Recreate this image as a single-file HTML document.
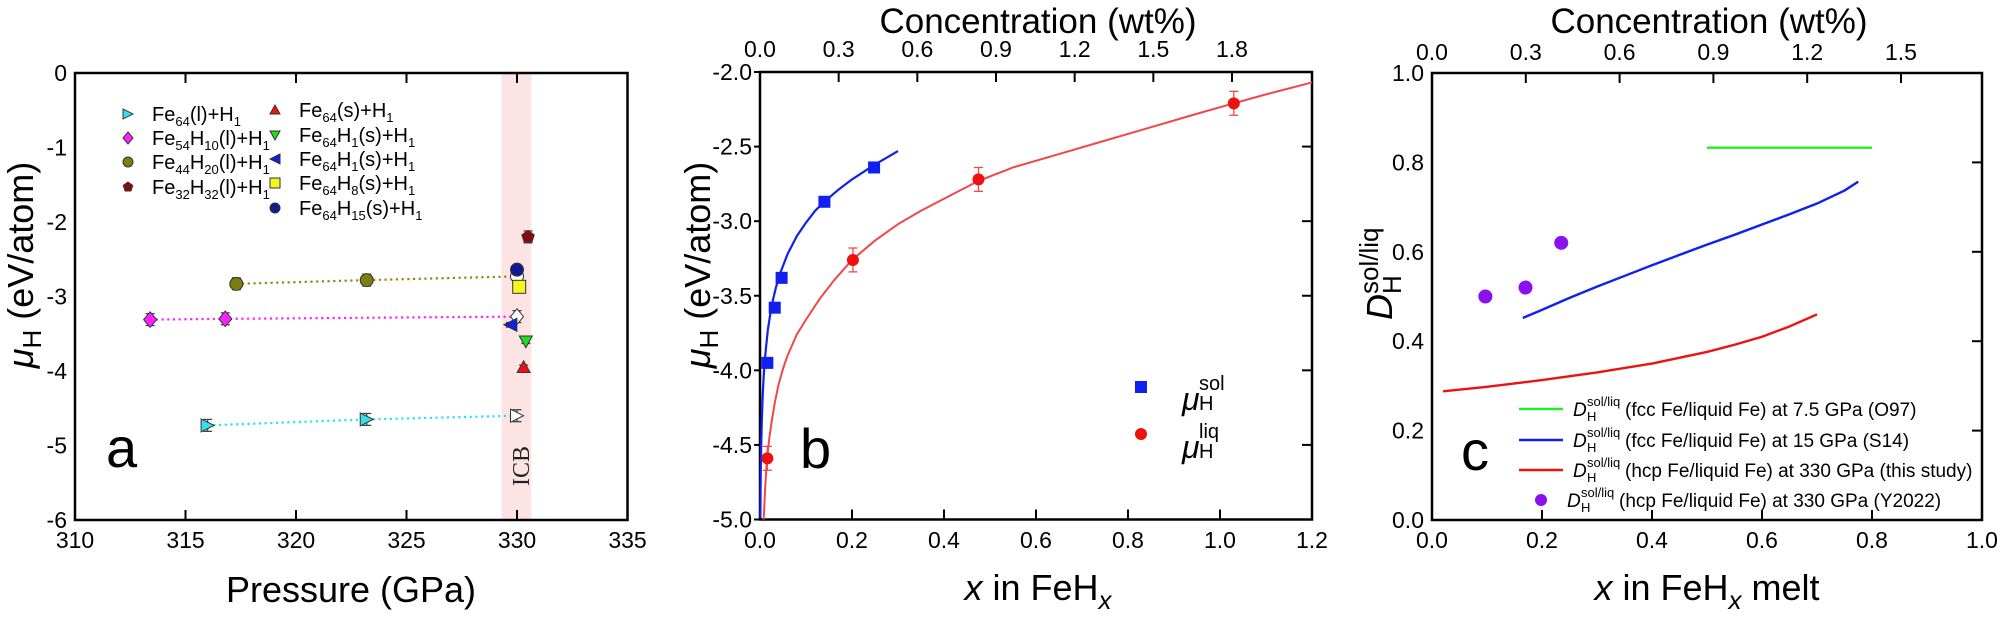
<!DOCTYPE html>
<html><head><meta charset="utf-8"><style>
html,body{margin:0;padding:0;background:#fff;}
svg{display:block;font-family:"Liberation Sans",Arial,sans-serif;}
</style></head><body>
<svg id="fig" width="2000" height="620" viewBox="0 0 2000 620" xmlns="http://www.w3.org/2000/svg"></svg>
<script>
// ---------- Panel a data ----------
const aTicksX = [310, 315, 320, 325, 330, 335];
const aTicksY = [0, -1, -2, -3, -4, -5, -6];
const aLiqP = [316.0, 323.2];       const aLiqMu = [-4.73, -4.65];
const a54P = [313.4, 316.8];        const a54Mu = [-3.31, -3.30];
const a44P = [317.3, 323.2];        const a44Mu = [-2.83, -2.78];
const aOpenP = [330.0, 330.0, 330.0]; const aOpenMu = [-4.60, -3.27, -2.73];
const a32P = [330.5];               const a32Mu = [-2.20];
const aSolFeP = [330.3];            const aSolFeMu = [-3.95];
const aSolH1dP = [330.4];           const aSolH1dMu = [-3.60];
const aSolH1lP = [329.7];           const aSolH1lMu = [-3.38];
const aSolH8P = [330.1];            const aSolH8Mu = [-2.87];
const aSolH15P = [330.0];           const aSolH15Mu = [-2.64];
// ---------- Panel b data ----------
const bTicksX = [0.0, 0.2, 0.4, 0.6, 0.8, 1.0, 1.2];
const bTicksY = [-2.0, -2.5, -3.0, -3.5, -4.0, -4.5, -5.0];
const bTopTicks = [0.0, 0.3, 0.6, 0.9, 1.2, 1.5, 1.8];
const bSolX = [0.016, 0.032, 0.047, 0.14, 0.248];
const bSolY = [-3.95, -3.58, -3.38, -2.87, -2.64];
const bLiqX = [0.016, 0.202, 0.475, 1.03];
const bLiqY = [-4.59, -3.26, -2.72, -2.21];
const bSolFitX = [0.0008, 0.0012, 0.0018, 0.0025, 0.004, 0.006, 0.008, 0.01, 0.013, 0.017, 0.022, 0.028, 0.035, 0.045, 0.06, 0.08, 0.1, 0.12, 0.14, 0.17, 0.2, 0.25, 0.3];
const bSolFitY = [-4.99, -4.82, -4.65, -4.52, -4.33, -4.16, -4.04, -3.95, -3.85, -3.73, -3.63, -3.53, -3.44, -3.34, -3.22, -3.10, -3.01, -2.93, -2.87, -2.79, -2.72, -2.62, -2.53];
const bLiqFitX = [0.008, 0.011, 0.015, 0.02, 0.025, 0.032, 0.04, 0.05, 0.06, 0.08, 0.1, 0.13, 0.16, 0.2, 0.25, 0.3, 0.35, 0.4, 0.475, 0.55, 0.65, 0.75, 0.85, 0.95, 1.03, 1.1, 1.2];
const bLiqFitY = [-5.0, -4.8, -4.6, -4.46, -4.35, -4.22, -4.1, -3.99, -3.9, -3.76, -3.66, -3.52, -3.4, -3.26, -3.13, -3.02, -2.93, -2.85, -2.73, -2.64, -2.55, -2.46, -2.37, -2.28, -2.21, -2.15, -2.07];
// ---------- Panel c data ----------
const cTicksX = [0.0, 0.2, 0.4, 0.6, 0.8, 1.0];
const cTicksY = [0.0, 0.2, 0.4, 0.6, 0.8, 1.0];
const cTopTicks = [0.0, 0.3, 0.6, 0.9, 1.2, 1.5];
const cGreenX = [0.5, 0.8];         const cGreenY = [0.833, 0.833];
const cBlueX = [0.165, 0.2, 0.25, 0.3, 0.35, 0.4, 0.45, 0.5, 0.55, 0.6, 0.65, 0.7, 0.75, 0.775];
const cBlueY = [0.452, 0.47, 0.497, 0.522, 0.546, 0.57, 0.593, 0.616, 0.638, 0.661, 0.684, 0.708, 0.737, 0.757];
const cRedX = [0.02, 0.1, 0.2, 0.3, 0.4, 0.5, 0.55, 0.6, 0.65, 0.7];
const cRedY = [0.288, 0.298, 0.313, 0.330, 0.350, 0.376, 0.392, 0.410, 0.433, 0.460];
const cY22X = [0.097, 0.17, 0.235];
const cY22Y = [0.50, 0.52, 0.62];

const NS = "http://www.w3.org/2000/svg";
const svg = document.getElementById('fig');
function mk(parent, tag, attrs, txt) {
  const e = document.createElementNS(NS, tag);
  for (const k in attrs) e.setAttribute(k, attrs[k]);
  if (txt !== undefined) e.textContent = txt;
  parent.appendChild(e);
  return e;
}
function lin(d0, d1, r0, r1) { return v => r0 + (v - d0) * (r1 - r0) / (d1 - d0); }
function marker(g, type, cx, cy, r, fill, stroke) {
  let e;
  if (type === 'circle') e = mk(g, 'circle', {cx: cx, cy: cy, r: r, fill: fill, stroke: stroke, 'stroke-width': 1});
  else if (type === 'square') e = mk(g, 'rect', {x: cx - r, y: cy - r, width: 2 * r, height: 2 * r, fill: fill, stroke: stroke, 'stroke-width': 1});
  else {
    let pts;
    if (type === 'tri-r') pts = [[cx - r, cy - r], [cx + r, cy], [cx - r, cy + r]];
    if (type === 'tri-l') pts = [[cx + r, cy - r], [cx - r, cy], [cx + r, cy + r]];
    if (type === 'tri-u') pts = [[cx - r, cy + r * 0.8], [cx, cy - r], [cx + r, cy + r * 0.8]];
    if (type === 'tri-d') pts = [[cx - r, cy - r * 0.8], [cx, cy + r], [cx + r, cy - r * 0.8]];
    if (type === 'diamond') pts = [[cx, cy - r * 1.2], [cx + r, cy], [cx, cy + r * 1.2], [cx - r, cy]];
    if (type === 'pentagon') { pts = []; for (let i = 0; i < 5; i++) { const a = -Math.PI / 2 + i * 2 * Math.PI / 5; pts.push([cx + r * Math.cos(a), cy + r * Math.sin(a)]); } }
    e = mk(g, 'polygon', {points: pts.map(p => p.join(',')).join(' '), fill: fill, stroke: stroke, 'stroke-width': 1});
  }
  return e;
}
function errbar(g, x, y1, y2, color) {
  mk(g, 'line', {x1: x, x2: x, y1: y1, y2: y2, stroke: color, 'stroke-width': 1.3});
  mk(g, 'line', {x1: x - 4.5, x2: x + 4.5, y1: y1, y2: y1, stroke: color, 'stroke-width': 1.3});
  mk(g, 'line', {x1: x - 4.5, x2: x + 4.5, y1: y2, y2: y2, stroke: color, 'stroke-width': 1.3});
}

// ================= PANEL A =================
const A = {l: 75, r: 627.5, t: 73, b: 520};
const ax = lin(310, 335, A.l, A.r), ay = lin(0, -6, A.t, A.b);
const ga = mk(svg, 'g', {});


const icb = mk(ga, 'rect', {x: ax(329.3), y: A.t, width: ax(330.65) - ax(329.3), height: A.b - A.t, fill: '#fde4e4'});


const icbT = mk(ga, 'text', {x: 0, y: 0, transform: 'translate(529,466) rotate(-90)', 'text-anchor': 'middle', 'font-family': '"Liberation Serif",serif', 'font-size': 24, fill: '#222'}, 'ICB');


const aFrame = mk(ga, 'rect', {x: A.l, y: A.t, width: A.r - A.l, height: A.b - A.t, fill: 'none', stroke: '#000', 'stroke-width': 2.5});


aTicksX.forEach(v => {
  const x = ax(v);
  if (v > 310 && v < 335) {
    mk(ga, 'line', {x1: x, x2: x, y1: A.b, y2: A.b - 10, stroke: '#000', 'stroke-width': 2});
    mk(ga, 'line', {x1: x, x2: x, y1: A.t, y2: A.t + 10, stroke: '#000', 'stroke-width': 2});
  }
  const t = mk(ga, 'text', {x: x, y: 548, 'text-anchor': 'middle', 'font-size': 23}, String(v));
  
  
});
aTicksY.forEach(v => {
  const t = mk(ga, 'text', {x: A.l - 8, y: ay(v) + 8, 'text-anchor': 'end', 'font-size': 23}, String(v));
  
  
});
const aXT = mk(ga, 'text', {x: 351, y: 602, 'text-anchor': 'middle', 'font-size': 36}, 'Pressure (GPa)');


const aYT = mk(ga, 'text', {x: 0, y: 0, transform: 'translate(33,265) rotate(-90)', 'text-anchor': 'middle', 'font-size': 36});


mk(aYT, 'tspan', {'font-style': 'italic'}, 'μ');
mk(aYT, 'tspan', {'font-size': 26, dy: 8}, 'H');
mk(aYT, 'tspan', {dy: -8}, ' (eV/atom)');
const aLet = mk(ga, 'text', {x: 106, y: 467, 'font-size': 56}, 'a');


function dotted(g, P, M, color, name) {
  const pts = P.map((p, i) => ax(p) + ',' + ay(M[i])).join(' ');
  const e = mk(g, 'polyline', {points: pts, fill: 'none', stroke: color, 'stroke-width': 2.2, 'stroke-dasharray': '2.2,3.5'});
  
  
}
dotted(ga, aLiqP.concat([aOpenP[0]]), aLiqMu.concat([aOpenMu[0]]), '#22e5ee', 'fe64l-trend-line');
dotted(ga, a54P.concat([aOpenP[1]]), a54Mu.concat([aOpenMu[1]]), '#ff22ff', 'fe54h10-trend-line');
dotted(ga, a44P.concat([aOpenP[2]]), a44Mu.concat([aOpenMu[2]]), '#8a8a10', 'fe44h20-trend-line');
function series(g, P, M, type, fill, err, name) {
  P.forEach((p, i) => {
    const x = ax(p), y = ay(M[i]);
    errbar(g, x, ay(M[i] + err), ay(M[i] - err), '#444');
    const m = marker(g, type, x, y, 6.5, fill, '#333');
    
    
  });
}
series(ga, aLiqP, aLiqMu, 'tri-r', '#33e0ea', 0.08, 'fe64l-point');
series(ga, a54P, a54Mu, 'diamond', '#ff22ff', 0.08, 'fe54h10-point');
series(ga, a44P, a44Mu, 'circle', '#7d7d10', 0.08, 'fe44h20-point');
series(ga, [aOpenP[0]], [aOpenMu[0]], 'tri-r', '#fff', 0.08, 'fe64l-icb-point');
series(ga, [aOpenP[1]], [aOpenMu[1]], 'diamond', '#fff', 0.08, 'fe54h10-icb-point');
series(ga, [aOpenP[2]], [aOpenMu[2]], 'circle', '#fff', 0.06, 'fe44h20-icb-point');
series(ga, aSolH15P, aSolH15Mu, 'circle', '#101c90', 0.04, 'fe64h15s-point');
series(ga, aSolH8P, aSolH8Mu, 'square', '#f5f520', 0.06, 'fe64h8s-point');
series(ga, aSolH1lP, aSolH1lMu, 'tri-l', '#1020e0', 0.03, 'fe64h1s-left-point');
series(ga, aSolH1dP, aSolH1dMu, 'tri-d', '#22dd22', 0.03, 'fe64h1s-down-point');
series(ga, aSolFeP, aSolFeMu, 'tri-u', '#ee1111', 0.03, 'fe64s-point');
series(ga, a32P, a32Mu, 'pentagon', '#880a0a', 0.08, 'fe32h32-point');
const legA = mk(ga, 'g', {});


function legEntry(mx, my, type, fill, parts) {
  const m = marker(legA, type, mx, my, 5, fill, '#333');
  
  
  const t = mk(legA, 'text', {x: mx + 24, y: my + 7, 'font-size': 20});
  
  
  parts.forEach(p => {
    if (p[1]) mk(t, 'tspan', {'font-size': 13, dy: 5}, p[0]);
    else mk(t, 'tspan', {dy: p[2] || 0}, p[0]);
  });
}
legEntry(128, 114, 'tri-r', '#33e0ea', [['Fe'], ['64', 1], ['(l)+H', 0, -5], ['1', 1]]);
legEntry(128, 138, 'diamond', '#ff22ff', [['Fe'], ['54', 1], ['H', 0, -5], ['10', 1], ['(l)+H', 0, -5], ['1', 1]]);
legEntry(128, 162, 'circle', '#7d7d10', [['Fe'], ['44', 1], ['H', 0, -5], ['20', 1], ['(l)+H', 0, -5], ['1', 1]]);
legEntry(128, 187, 'pentagon', '#880a0a', [['Fe'], ['32', 1], ['H', 0, -5], ['32', 1], ['(l)+H', 0, -5], ['1', 1]]);
legEntry(275, 110, 'tri-u', '#ee1111', [['Fe'], ['64', 1], ['(s)+H', 0, -5], ['1', 1]]);
legEntry(275, 135, 'tri-d', '#22dd22', [['Fe'], ['64', 1], ['H', 0, -5], ['1', 1], ['(s)+H', 0, -5], ['1', 1]]);
legEntry(275, 159, 'tri-l', '#1020e0', [['Fe'], ['64', 1], ['H', 0, -5], ['1', 1], ['(s)+H', 0, -5], ['1', 1]]);
legEntry(275, 183, 'square', '#f5f520', [['Fe'], ['64', 1], ['H', 0, -5], ['8', 1], ['(s)+H', 0, -5], ['1', 1]]);
legEntry(275, 208, 'circle', '#101c90', [['Fe'], ['64', 1], ['H', 0, -5], ['15', 1], ['(s)+H', 0, -5], ['1', 1]]);

// ================= PANEL B =================
const B = {l: 760, r: 1312, t: 72, b: 519.5};
const bx = lin(0, 1.2, B.l, B.r), by = lin(-2, -5, B.t, B.b);
const bTop = lin(0, 1.8, 760, 1232);
const gb = mk(svg, 'g', {});


const bFrame = mk(gb, 'rect', {x: B.l, y: B.t, width: B.r - B.l, height: B.b - B.t, fill: 'none', stroke: '#000', 'stroke-width': 2.5});


bTicksX.forEach(v => {
  const x = bx(v);
  if (v > 0 && v < 1.2) mk(gb, 'line', {x1: x, x2: x, y1: B.b, y2: B.b - 10, stroke: '#000', 'stroke-width': 2});
  const t = mk(gb, 'text', {x: x, y: 548, 'text-anchor': 'middle', 'font-size': 23}, v.toFixed(1));
  
  
});
bTicksY.forEach(v => {
  const y = by(v);
  mk(gb, 'line', {x1: B.l - 6, x2: B.l, y1: y, y2: y, stroke: '#000', 'stroke-width': 2});
  if (v > -5 && v < -2) mk(gb, 'line', {x1: B.r, x2: B.r - 10, y1: y, y2: y, stroke: '#000', 'stroke-width': 2});
  const t = mk(gb, 'text', {x: B.l - 8, y: y + 8, 'text-anchor': 'end', 'font-size': 23}, v.toFixed(1));
  
  
});
bTopTicks.forEach(v => {
  const x = bTop(v);
  if (v > 0) mk(gb, 'line', {x1: x, x2: x, y1: B.t, y2: B.t + 10, stroke: '#000', 'stroke-width': 2});
  const t = mk(gb, 'text', {x: x, y: 57, 'text-anchor': 'middle', 'font-size': 23}, v.toFixed(1));
  
  
});
const bTT = mk(gb, 'text', {x: 1038, y: 33, 'text-anchor': 'middle', 'font-size': 35}, 'Concentration (wt%)');


const bXT = mk(gb, 'text', {x: 1038, y: 600, 'text-anchor': 'middle', 'font-size': 36});


mk(bXT, 'tspan', {'font-style': 'italic'}, 'x');
mk(bXT, 'tspan', {}, ' in FeH');
mk(bXT, 'tspan', {'font-style': 'italic', 'font-size': 26, dy: 9}, 'x');
const bYT = mk(gb, 'text', {x: 0, y: 0, transform: 'translate(710,265) rotate(-90)', 'text-anchor': 'middle', 'font-size': 36});


mk(bYT, 'tspan', {'font-style': 'italic'}, 'μ');
mk(bYT, 'tspan', {'font-size': 26, dy: 8}, 'H');
mk(bYT, 'tspan', {dy: -8}, ' (eV/atom)');
const bLet = mk(gb, 'text', {x: 800, y: 468, 'font-size': 56}, 'b');


const solFit = mk(gb, 'polyline', {points: bSolFitX.map((v, i) => bx(v) + ',' + by(bSolFitY[i])).join(' '), fill: 'none', stroke: '#1020ee', 'stroke-width': 2.2, 'stroke-linejoin': 'round'});


const liqFit = mk(gb, 'polyline', {points: bLiqFitX.map((v, i) => bx(v) + ',' + by(bLiqFitY[i])).join(' '), fill: 'none', stroke: '#f04848', 'stroke-width': 2, 'stroke-linejoin': 'round'});


bSolX.forEach((v, i) => {
  errbar(gb, bx(v), by(bSolY[i] + 0.03), by(bSolY[i] - 0.03), '#1020ee');
  const m = mk(gb, 'rect', {x: bx(v) - 6, y: by(bSolY[i]) - 6, width: 12, height: 12, fill: '#1020ee'});
  
  
});
bLiqX.forEach((v, i) => {
  errbar(gb, bx(v), by(bLiqY[i] + 0.08), by(bLiqY[i] - 0.08), '#f04848');
  const m = mk(gb, 'circle', {cx: bx(v), cy: by(bLiqY[i]), r: 6, fill: '#ee1111'});
  
  
});
const legB1 = mk(gb, 'rect', {x: 1135, y: 381, width: 12, height: 12, fill: '#1020ee'});


const legB2 = mk(gb, 'circle', {cx: 1141, cy: 434, r: 6, fill: '#ee1111'});


const lb1 = mk(gb, 'text', {x: 1182, y: 410, 'font-size': 32, 'font-style': 'italic'}, 'μ');


mk(gb, 'text', {x: 1199, y: 410, 'font-size': 20}, 'H');
mk(gb, 'text', {x: 1199, y: 390, 'font-size': 20}, 'sol');
const lb2 = mk(gb, 'text', {x: 1182, y: 458, 'font-size': 32, 'font-style': 'italic'}, 'μ');


mk(gb, 'text', {x: 1199, y: 458, 'font-size': 20}, 'H');
mk(gb, 'text', {x: 1199, y: 438, 'font-size': 20}, 'liq');

// ================= PANEL C =================
const C = {l: 1432, r: 1982, t: 73, b: 520};
const cx = lin(0, 1, C.l, C.r), cy = lin(0, 1, C.b, C.t);
const cTop = lin(0, 1.5, 1432, 1901);
const gc = mk(svg, 'g', {});


const cFrame = mk(gc, 'rect', {x: C.l, y: C.t, width: C.r - C.l, height: C.b - C.t, fill: 'none', stroke: '#000', 'stroke-width': 2.5});


cTicksX.forEach(v => {
  const x = cx(v);
  if (v > 0 && v < 1) mk(gc, 'line', {x1: x, x2: x, y1: C.b, y2: C.b - 10, stroke: '#000', 'stroke-width': 2});
  const t = mk(gc, 'text', {x: x, y: 548, 'text-anchor': 'middle', 'font-size': 23}, v.toFixed(1));
  
  
});
cTicksY.forEach(v => {
  const y = cy(v);
  if (v > 0 && v < 1) mk(gc, 'line', {x1: C.r, x2: C.r - 10, y1: y, y2: y, stroke: '#000', 'stroke-width': 2});
  const t = mk(gc, 'text', {x: C.l - 8, y: y + 8, 'text-anchor': 'end', 'font-size': 23}, v.toFixed(1));
  
  
});
cTopTicks.forEach(v => {
  const x = cTop(v);
  if (v > 0) mk(gc, 'line', {x1: x, x2: x, y1: C.t, y2: C.t + 10, stroke: '#000', 'stroke-width': 2});
  const t = mk(gc, 'text', {x: x, y: 60, 'text-anchor': 'middle', 'font-size': 23}, v.toFixed(1));
  
  
});
const cTT = mk(gc, 'text', {x: 1709, y: 33, 'text-anchor': 'middle', 'font-size': 35}, 'Concentration (wt%)');


const cXT = mk(gc, 'text', {x: 1707, y: 600, 'text-anchor': 'middle', 'font-size': 36});


mk(cXT, 'tspan', {'font-style': 'italic'}, 'x');
mk(cXT, 'tspan', {}, ' in FeH');
mk(cXT, 'tspan', {'font-style': 'italic', 'font-size': 26, dy: 9}, 'x');
mk(cXT, 'tspan', {dy: -9}, ' melt');
const cYT = mk(gc, 'g', {transform: 'translate(1392,250) rotate(-90)'});


mk(cYT, 'text', {x: -70, y: 0, 'font-size': 36, 'font-style': 'italic'}, 'D');
mk(cYT, 'text', {x: -44, y: 9, 'font-size': 26}, 'H');
mk(cYT, 'text', {x: -44, y: -14, 'font-size': 26}, 'sol/liq');
const cLet = mk(gc, 'text', {x: 1461, y: 470, 'font-size': 56}, 'c');


function cLine(X, Y, color, name) {
  const e = mk(gc, 'polyline', {points: X.map((v, i) => cx(v) + ',' + cy(Y[i])).join(' '), fill: 'none', stroke: color, 'stroke-width': 2.4, 'stroke-linejoin': 'round'});
  
  
}
cLine(cGreenX, cGreenY, '#22ee22', 'o97-line');
cLine(cBlueX, cBlueY, '#1020ee', 's14-line');
cLine(cRedX, cRedY, '#ee1111', 'this-study-line');
cY22X.forEach((v, i) => {
  const m = mk(gc, 'circle', {cx: cx(v), cy: cy(cY22Y[i]), r: 7, fill: '#8a10f0'});
  
  
});
function cLeg(y, kind, color, rest) {
  const g = mk(gc, 'g', {});
  
  
  let tx = 1573;
  if (kind === 'line') mk(g, 'line', {x1: 1519, x2: 1563, y1: y, y2: y, stroke: color, 'stroke-width': 2.4});
  else { mk(g, 'circle', {cx: 1541, cy: y, r: 6, fill: color}); tx = 1567; }
  mk(g, 'text', {x: tx, y: y + 7, 'font-size': 19, 'font-style': 'italic'}, 'D');
  mk(g, 'text', {x: tx + 14, y: y + 12, 'font-size': 13}, 'H');
  mk(g, 'text', {x: tx + 14, y: y - 3, 'font-size': 13}, 'sol/liq');
  mk(g, 'text', {x: tx + 52, y: y + 7, 'font-size': 19}, rest);
}
cLeg(409, 'line', '#22ee22', '(fcc Fe/liquid Fe) at 7.5 GPa (O97)');
cLeg(440, 'line', '#1020ee', '(fcc Fe/liquid Fe) at 15 GPa (S14)');
cLeg(470, 'line', '#ee1111', '(hcp Fe/liquid Fe) at 330 GPa (this study)');
cLeg(500, 'circle', '#8a10f0', '(hcp Fe/liquid Fe) at 330 GPa (Y2022)');
</script>
</body></html>
